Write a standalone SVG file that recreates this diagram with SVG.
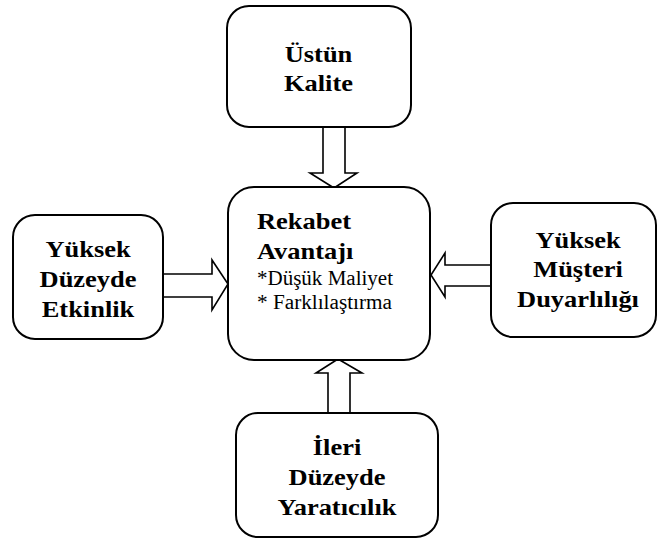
<svg xmlns="http://www.w3.org/2000/svg" width="658" height="541" viewBox="0 0 658 541">
  <style>
    .box { fill: #ffffff; stroke: #000000; stroke-width: 2; }
    .arrow { fill: #ffffff; stroke: #000000; stroke-width: 1.6; stroke-linejoin: miter; }
    .title { font-family: 'Liberation Serif', 'Times New Roman', serif; font-weight: bold; font-size: 23px; fill: #000000; }
    .item { font-family: 'Liberation Serif', 'Times New Roman', serif; font-size: 20px; fill: #000000; }
    .mid { text-anchor: middle; }
  </style>
  <rect width="658" height="541" fill="#ffffff"/>

  <!-- hollow block arrows pointing into the central node -->
  <g id="connectors">
    <polygon class="arrow" points="323,127 345,127 345,173 357,173 334,188 310,173 323,173"/>
    <polygon class="arrow" points="163,274 212,274 212,260 228,284 212,310 212,297 163,297"/>
    <polygon class="arrow" points="491,265 445,265 445,253 431,275 445,297 445,286 491,286"/>
    <polygon class="arrow" points="328,413 328,373 316,373 338,359 362,373 350,373 350,413"/>
  </g>

  <g id="node-kalite">
    <rect class="box" x="227" y="6" width="184" height="121" rx="22"/>
    <g transform="translate(318.5,0) scale(1.15,1)">
      <text class="title mid" x="0" y="62">Üstün</text>
      <text class="title mid" x="0" y="91">Kalite</text>
    </g>
  </g>

  <g id="node-etkinlik">
    <rect class="box" x="13" y="215" width="150" height="124" rx="22"/>
    <g transform="translate(88,0) scale(1.15,1)">
      <text class="title mid" x="0" y="257">Yüksek</text>
      <text class="title mid" x="0" y="287">Düzeyde</text>
      <text class="title mid" x="0" y="317">Etkinlik</text>
    </g>
  </g>

  <g id="node-rekabet">
    <rect class="box" x="228" y="187" width="202" height="173" rx="26"/>
    <g transform="translate(257,0) scale(1.15,1)">
      <text class="title" x="0" y="229">Rekabet</text>
      <text class="title" x="0" y="259">Avantajı</text>
    </g>
    <text class="item" x="257" y="285" textLength="136" lengthAdjust="spacingAndGlyphs">*Düşük Maliyet</text>
    <text class="item" x="257" y="309" textLength="135" lengthAdjust="spacingAndGlyphs">* Farklılaştırma</text>
  </g>

  <g id="node-musteri">
    <rect class="box" x="491" y="203" width="165" height="134" rx="22"/>
    <g transform="translate(578,0) scale(1.15,1)">
      <text class="title mid" x="0" y="248">Yüksek</text>
      <text class="title mid" x="0" y="277">Müşteri</text>
      <text class="title mid" x="0" y="307">Duyarlılığı</text>
    </g>
  </g>

  <g id="node-yaraticilik">
    <rect class="box" x="236" y="413" width="202" height="124" rx="22"/>
    <g transform="translate(337,0) scale(1.15,1)">
      <text class="title mid" x="0" y="455">İleri</text>
      <text class="title mid" x="0" y="485">Düzeyde</text>
      <text class="title mid" x="0" y="515">Yaratıcılık</text>
    </g>
  </g>
</svg>
